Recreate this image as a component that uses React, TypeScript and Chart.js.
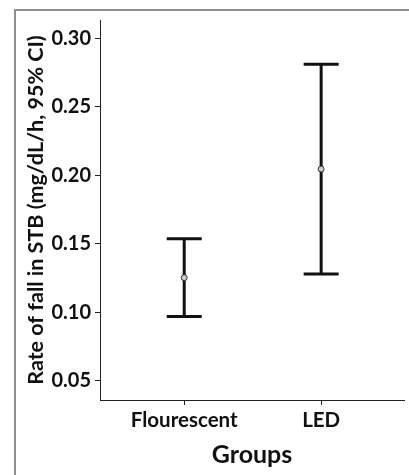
import React, { useEffect, useRef } from "react";
import { Chart, registerables } from "chart.js";

Chart.register(...registerables);

const groups = ["Flourescent", "LED"];
const groupPositions = [1, 2];
const means = [0.1253, 0.2045];
const lowerCI = [0.097, 0.128];
const upperCI = [0.1536, 0.281];
const yTicks = [0.05, 0.1, 0.15, 0.2, 0.25, 0.3];
const yMin = 0.0361;
const yMax = 0.3132;
const xMin = 0.385;
const xMax = 2.605;

const FONT = "Lato";

const errorBarPlugin = {
  id: "errorBars",
  beforeDatasetsDraw(chart: any) {
    const { ctx, scales } = chart;
    const x = scales.x;
    const y = scales.y;
    ctx.save();
    ctx.strokeStyle = "#111";
    ctx.lineWidth = 3;
    ctx.lineCap = "butt";
    groupPositions.forEach((pos, i) => {
      const px = x.getPixelForValue(pos);
      const top = y.getPixelForValue(upperCI[i]);
      const bot = y.getPixelForValue(lowerCI[i]);
      const hw = 17.5;
      ctx.beginPath();
      ctx.moveTo(px, top);
      ctx.lineTo(px, bot);
      ctx.moveTo(px - hw, top);
      ctx.lineTo(px + hw, top);
      ctx.moveTo(px - hw, bot);
      ctx.lineTo(px + hw, bot);
      ctx.stroke();
    });
    ctx.restore();
  },
};

export default function App() {
  const ref = useRef<HTMLCanvasElement | null>(null);

  useEffect(() => {
    if (!ref.current) return;
    const chart = new Chart(ref.current, {
      type: "scatter",
      data: {
        datasets: [
          {
            data: groupPositions.map((p, i) => ({ x: p, y: means[i] })),
            pointRadius: 3,
            pointBorderWidth: 1,
            pointBorderColor: "#333",
            pointBackgroundColor: "#ccc",
          },
        ],
      },
      options: {
        responsive: false,
        animation: false,
        layout: { padding: { top: 20, left: 0, right: 0, bottom: 0 } },
        plugins: {
          legend: { display: false },
          tooltip: { enabled: false },
        },
        scales: {
          x: {
            type: "linear",
            min: xMin,
            max: xMax,
            afterBuildTicks: (axis: any) => {
              axis.ticks = groupPositions.map((v) => ({ value: v }));
            },
            afterFit: (axis: any) => {
              axis.height = 75;
            },
            ticks: {
              callback: (v: any) => {
                const i = groupPositions.indexOf(Number(v));
                return i >= 0 ? groups[i] : "";
              },
              color: "#111",
              font: { family: FONT, weight: "bold", size: 20.5 },
              padding: 3,
              maxRotation: 0,
            },
            grid: {
              display: true,
              drawOnChartArea: false,
              drawTicks: true,
              tickLength: 5,
              color: "#222",
            },
            border: { display: true, color: "#222", width: 1 },
            title: {
              display: true,
              text: "Groups",
              color: "#111",
              font: { family: FONT, weight: "bold", size: 25 },
              padding: { top: 2, bottom: 5 },
            },
          },
          y: {
            type: "linear",
            min: yMin,
            max: yMax,
            afterBuildTicks: (axis: any) => {
              axis.ticks = yTicks.map((v) => ({ value: v }));
            },
            afterFit: (axis: any) => {
              axis.width = 100;
            },
            ticks: {
              callback: (v: any) => Number(v).toFixed(2),
              color: "#111",
              font: { family: FONT, weight: "bold", size: 20 },
              padding: 4,
            },
            grid: {
              display: true,
              drawOnChartArea: false,
              drawTicks: true,
              tickLength: 5,
              color: "#222",
            },
            border: { display: true, color: "#222", width: 1 },
            title: {
              display: true,
              text: "Rate of fall in STB (mg/dL/h, 95% CI)",
              color: "#111",
              font: { family: FONT, weight: "bold", size: 21.5 },
              padding: { top: 23, bottom: 2 },
            },
          },
        },
      },
      plugins: [errorBarPlugin],
    } as any);
    return () => chart.destroy();
  }, []);

  return (
    <div
      style={{
        position: "absolute",
        left: 0,
        top: 0,
        width: 409,
        height: 475,
        overflow: "hidden",
        background: "#fff",
      }}
    >
      <div
        style={{
          position: "absolute",
          left: 14,
          top: 9,
          width: 395,
          height: 466,
          boxSizing: "border-box",
          borderLeft: "2px solid #8f8f8f",
          borderTop: "2px solid #8f8f8f",
        }}
      />
      <canvas
        ref={ref}
        width={409}
        height={475}
        style={{ position: "absolute", left: 0, top: 0, width: 409, height: 475 }}
      />
    </div>
  );
}
